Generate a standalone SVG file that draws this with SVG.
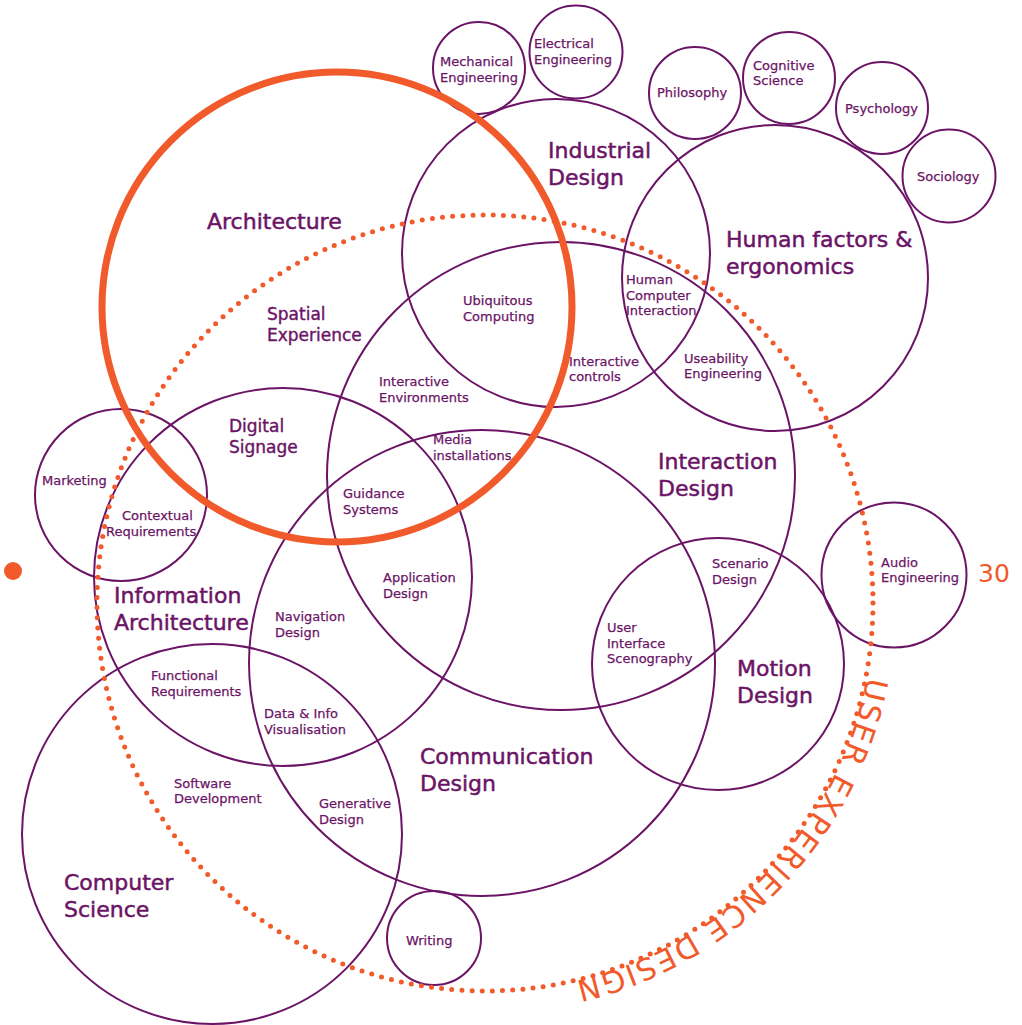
<svg xmlns="http://www.w3.org/2000/svg" width="1022" height="1025" viewBox="0 0 1022 1025">
<style>
.c{fill:none;stroke:#6B1466;stroke-width:2}
.t{font-family:"DejaVu Sans","Liberation Sans",sans-serif;fill:#6B1466;stroke:#6B1466}
.s{font-size:13px;stroke-width:0.25}
.m{font-size:17px;stroke-width:0.4}
.l{font-size:22px;stroke-width:0.5}
.o{fill:#F15A2B}
</style>
<defs>
<path id="uxpath" d="M 867 677 A 387 387 0 0 1 417.6 985.1"/>
</defs>
<rect width="1022" height="1025" fill="#ffffff"/>

<g id="mechanical-engineering"><circle class="c" cx="479" cy="68" r="46"/><text class="t s"><tspan x="440" y="66">Mechanical</tspan><tspan x="440" y="82">Engineering</tspan></text></g>
<g id="electrical-engineering"><circle class="c" cx="576" cy="52" r="46.5"/><text class="t s"><tspan x="534" y="48">Electrical</tspan><tspan x="534" y="64">Engineering</tspan></text></g>
<g id="philosophy"><circle class="c" cx="695" cy="93" r="46"/><text class="t s" x="657" y="97">Philosophy</text></g>
<g id="cognitive-science"><circle class="c" cx="789" cy="78" r="46"/><text class="t s"><tspan x="753" y="70">Cognitive</tspan><tspan x="753" y="85">Science</tspan></text></g>
<g id="psychology"><circle class="c" cx="882" cy="108" r="46"/><text class="t s" x="845" y="113">Psychology</text></g>
<g id="sociology"><circle class="c" cx="949" cy="176" r="46.5"/><text class="t s" x="917" y="181">Sociology</text></g>

<g id="industrial-design"><circle class="c" cx="556" cy="253" r="154"/><text class="t l"><tspan x="548" y="158">Industrial</tspan><tspan x="548" y="185">Design</tspan></text></g>
<g id="human-factors"><circle class="c" cx="775" cy="278" r="153"/><text class="t l"><tspan x="726" y="247">Human factors &amp;</tspan><tspan x="726" y="274">ergonomics</tspan></text></g>
<g id="interaction-design"><circle class="c" cx="561" cy="476" r="234"/><text class="t l"><tspan x="658" y="469">Interaction</tspan><tspan x="658" y="496">Design</tspan></text></g>
<g id="communication-design"><circle class="c" cx="482" cy="663" r="233"/><text class="t l"><tspan x="420" y="764">Communication</tspan><tspan x="420" y="791">Design</tspan></text></g>
<g id="information-architecture"><circle class="c" cx="283" cy="577" r="189"/><text class="t l"><tspan x="114" y="603">Information</tspan><tspan x="114" y="630">Architecture</tspan></text></g>
<g id="marketing"><circle class="c" cx="121" cy="495" r="86"/><text class="t s" x="42" y="485">Marketing</text></g>
<g id="computer-science"><circle class="c" cx="212" cy="834" r="190"/><text class="t l"><tspan x="64" y="890">Computer</tspan><tspan x="64" y="917">Science</tspan></text></g>
<g id="writing"><circle class="c" cx="434" cy="938" r="47"/><text class="t s" x="406" y="945">Writing</text></g>
<g id="motion-design"><circle class="c" cx="718" cy="664" r="126"/><text class="t l"><tspan x="737" y="676">Motion</tspan><tspan x="737" y="703">Design</tspan></text></g>
<g id="audio-engineering"><circle class="c" cx="894" cy="575" r="72.5"/><text class="t s"><tspan x="881" y="567">Audio</tspan><tspan x="881" y="582">Engineering</tspan></text></g>

<g id="overlap-labels">
<text class="t m"><tspan x="267" y="320">Spatial</tspan><tspan x="267" y="341">Experience</tspan></text>
<text class="t m"><tspan x="229" y="432">Digital</tspan><tspan x="229" y="453">Signage</tspan></text>
<text class="t s"><tspan x="626" y="284">Human</tspan><tspan x="626" y="300">Computer</tspan><tspan x="626" y="315">Interaction</tspan></text>
<text class="t s"><tspan x="463" y="305">Ubiquitous</tspan><tspan x="463" y="321">Computing</tspan></text>
<text class="t s"><tspan x="569" y="366">Interactive</tspan><tspan x="569" y="381">controls</tspan></text>
<text class="t s"><tspan x="684" y="363">Useability</tspan><tspan x="684" y="378">Engineering</tspan></text>
<text class="t s"><tspan x="379" y="386">Interactive</tspan><tspan x="379" y="402">Environments</tspan></text>
<text class="t s"><tspan x="433" y="444">Media</tspan><tspan x="433" y="460">installations</tspan></text>
<text class="t s"><tspan x="122" y="520">Contextual</tspan><tspan x="106" y="536">Requirements</tspan></text>
<text class="t s"><tspan x="343" y="498">Guidance</tspan><tspan x="343" y="514">Systems</tspan></text>
<text class="t s"><tspan x="383" y="582">Application</tspan><tspan x="383" y="598">Design</tspan></text>
<text class="t s"><tspan x="712" y="568">Scenario</tspan><tspan x="712" y="584">Design</tspan></text>
<text class="t s"><tspan x="275" y="621">Navigation</tspan><tspan x="275" y="637">Design</tspan></text>
<text class="t s"><tspan x="607" y="632">User</tspan><tspan x="607" y="648">Interface</tspan><tspan x="607" y="663">Scenography</tspan></text>
<text class="t s"><tspan x="151" y="680">Functional</tspan><tspan x="151" y="696">Requirements</tspan></text>
<text class="t s"><tspan x="264" y="718">Data &amp; Info</tspan><tspan x="264" y="734">Visualisation</tspan></text>
<text class="t s"><tspan x="174" y="788">Software</tspan><tspan x="174" y="803">Development</tspan></text>
<text class="t s"><tspan x="319" y="808">Generative</tspan><tspan x="319" y="824">Design</tspan></text>
</g>

<g id="user-experience-design">
<circle cx="485" cy="603" r="388" fill="none" stroke="#F15A2B" stroke-width="5" stroke-linecap="round" stroke-dasharray="0 10.2"/>
<text font-family="'DejaVu Sans','Liberation Sans',sans-serif" font-size="30" fill="#F15A2B" letter-spacing="2"><textPath href="#uxpath">USER EXPERIENCE DESIGN</textPath></text>
</g>

<g id="architecture"><circle cx="337" cy="307" r="235" fill="none" stroke="#F15A2B" stroke-width="7"/><text class="t l" x="207" y="229">Architecture</text></g>

<g id="marker-30"><circle class="o" cx="13" cy="571" r="9"/><text font-family="'DejaVu Sans','Liberation Sans',sans-serif" font-size="25" fill="#F15A2B" x="978" y="582">30</text></g>
</svg>
